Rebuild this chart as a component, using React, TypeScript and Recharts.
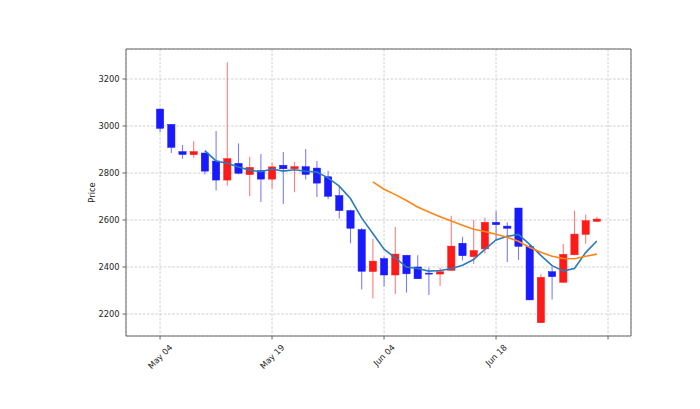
import React from 'react';
import { ComposedChart, Bar, Line, XAxis, YAxis, CartesianGrid, ReferenceArea } from 'recharts';

const opens = [3072, 3007, 2891, 2878, 2885, 2851, 2770, 2841, 2793, 2810, 2774, 2833, 2818, 2827, 2821, 2784, 2704, 2640, 2559, 2381, 2436, 2366, 2450, 2400, 2374, 2370, 2386, 2501, 2444, 2477, 2590, 2574, 2651, 2488, 2163, 2380, 2335, 2452, 2539, 2594];
const highs = [3075, 3008, 2919, 2936, 2887, 2979, 3271, 2926, 2869, 2881, 2845, 2889, 2847, 2902, 2851, 2810, 2743, 2644, 2566, 2520, 2445, 2570, 2452, 2450, 2398, 2397, 2618, 2529, 2600, 2610, 2638, 2590, 2652, 2495, 2369, 2401, 2498, 2640, 2623, 2614];
const lows = [2973, 2885, 2861, 2865, 2794, 2726, 2746, 2794, 2701, 2677, 2733, 2668, 2718, 2772, 2698, 2688, 2606, 2501, 2304, 2266, 2317, 2285, 2291, 2349, 2281, 2319, 2384, 2428, 2413, 2458, 2511, 2421, 2430, 2258, 2162, 2262, 2333, 2450, 2499, 2593];
const closes = [2990, 2909, 2879, 2891, 2808, 2770, 2861, 2799, 2824, 2774, 2826, 2818, 2827, 2794, 2757, 2701, 2640, 2565, 2382, 2425, 2366, 2455, 2371, 2350, 2371, 2380, 2489, 2448, 2470, 2590, 2580, 2565, 2488, 2260, 2356, 2359, 2454, 2540, 2597, 2604];
// 5-period moving average (from index 4)
const ma5 = [null, null, null, null, 2895.4, 2851.4, 2841.8, 2825.8, 2812.4, 2805.6, 2816.8, 2808.2, 2813.8, 2807.8, 2804.4, 2779.4, 2743.8, 2691.4, 2609.0, 2542.6, 2475.6, 2438.6, 2399.8, 2393.4, 2382.6, 2385.4, 2392.2, 2407.6, 2431.6, 2475.4, 2515.4, 2530.6, 2538.6, 2496.6, 2449.8, 2405.6, 2383.4, 2393.8, 2461.2, 2510.8];
// 20-period moving average (from index 19)
const ma20 = [null, null, null, null, null, null, null, null, null, null, null, null, null, null, null, null, null, null, null, 2762.0, 2730.8, 2708.1, 2682.7, 2655.7, 2633.8, 2614.3, 2595.7, 2578.2, 2560.5, 2551.3, 2539.0, 2526.3, 2509.4, 2482.7, 2462.6, 2445.5, 2436.2, 2435.0, 2445.7, 2454.7];

const tickIdx = [0, 10, 20, 30, 40];
const tickLabels = ['May 04', 'May 19', 'Jun 04', 'Jun 18', ''];
const yTicks = [2200, 2400, 2600, 2800, 3000, 3200];

const data = opens.map((o, i) => ({
  i,
  open: o,
  high: highs[i],
  low: lows[i],
  close: closes[i],
  range: [lows[i], highs[i]],
  ma5: ma5[i],
  ma20: ma20[i],
}));

const FONT = 'DejaVu Sans, sans-serif';
const FS = 8.3;

const charW: Record<string, number> = { M: 0.863, a: 0.613, y: 0.592, ' ': 0.318, J: 0.295, u: 0.634, n: 0.634, '0': 0.636, '1': 0.636, '4': 0.636, '8': 0.636, '9': 0.636 };
const textWidth = (s: string) => s.split('').reduce((t, c) => t + (charW[c] ?? 0.6), 0) * FS;

const Candle = (props: any) => {
  const { x, y, width, height, payload } = props;
  if (!payload) return null;
  const { open, close, high, low } = payload;
  const cx = x + width / 2;
  const ppu = height / (high - low);
  const yOf = (v: number) => y + (high - v) * ppu;
  const up = close >= open;
  const body = up ? '#ff1a1a' : '#1a1aff';
  const wick = up ? '#ff7d7d' : '#7d7dff';
  const top = yOf(Math.max(open, close));
  const bot = yOf(Math.min(open, close));
  const bw = 7.3;
  return (
    <g>
      <line x1={cx} x2={cx} y1={yOf(high)} y2={yOf(low)} stroke={wick} strokeWidth={1.1} />
      <rect x={cx - bw / 2} y={top} width={bw} height={Math.max(bot - top, 1)} fill={body} stroke={body} strokeWidth={0.5} />
    </g>
  );
};

const XTick = (props: any) => {
  const { x, payload } = props;
  const k = tickIdx.indexOf(payload.value);
  const label = k >= 0 ? tickLabels[k] : '';
  if (!label) return null;
  const w = textWidth(label);
  const cy = 343 + 0.3535 * (w + FS * 0.95);
  return (
    <text x={x} y={cy} transform={`rotate(-45 ${x} ${cy})`} textAnchor="middle" dominantBaseline="central" fontSize={FS} fill="#262626" fontFamily={FONT}>
      {label}
    </text>
  );
};

const YLabel = (props: any) => {
  const vb = props.viewBox || { x: 0, y: 49, width: 126, height: 287 };
  const lx = vb.x + vb.width - 34;
  const ly = vb.y + vb.height / 2;
  return (
    <text x={lx} y={ly} transform={`rotate(-90 ${lx} ${ly})`} textAnchor="middle" dominantBaseline="central" fontSize={FS} fill="#262626" fontFamily={FONT}>
      Price
    </text>
  );
};

export default function App() {
  return (
    <div style={{ position: 'absolute', left: 0, top: 0, width: 700, height: 409, background: '#fff' }}>
      <ComposedChart width={700} height={409} data={data} margin={{ top: 49, right: 69, bottom: 0, left: 0 }}>
        <CartesianGrid stroke="#c4c4c4" strokeDasharray="2.6 1.6" strokeWidth={0.8} />
        <XAxis
          dataKey="i"
          type="number"
          domain={[-3.04, 42.05]}
          allowDataOverflow
          ticks={tickIdx}
          interval={0}
          height={73}
          tickSize={3.5}
          tick={<XTick />}
          stroke="#666"
          axisLine={false}
        />
        <YAxis
          type="number"
          domain={[2106.4, 3327.7]}
          allowDataOverflow
          ticks={yTicks}
          interval={0}
          width={126}
          tickSize={3.5}
          tickMargin={3}
          tick={{ fontSize: FS, fill: '#262626', fontFamily: FONT }}
          stroke="#666"
          axisLine={false}
          label={YLabel}
        />
        <Bar dataKey="range" barSize={7.3} shape={Candle} isAnimationActive={false} />
        <Line dataKey="ma5" stroke="#2b7bba" strokeWidth={1.6} dot={false} activeDot={false} isAnimationActive={false} connectNulls={false} />
        <Line dataKey="ma20" stroke="#ff8516" strokeWidth={1.6} dot={false} activeDot={false} isAnimationActive={false} connectNulls={false} />
        <ReferenceArea x1={-3.04} x2={42.05} y1={2106.4} y2={3327.7} fill="none" stroke="#666" strokeWidth={1} ifOverflow="visible" />
      </ComposedChart>
    </div>
  );
}
